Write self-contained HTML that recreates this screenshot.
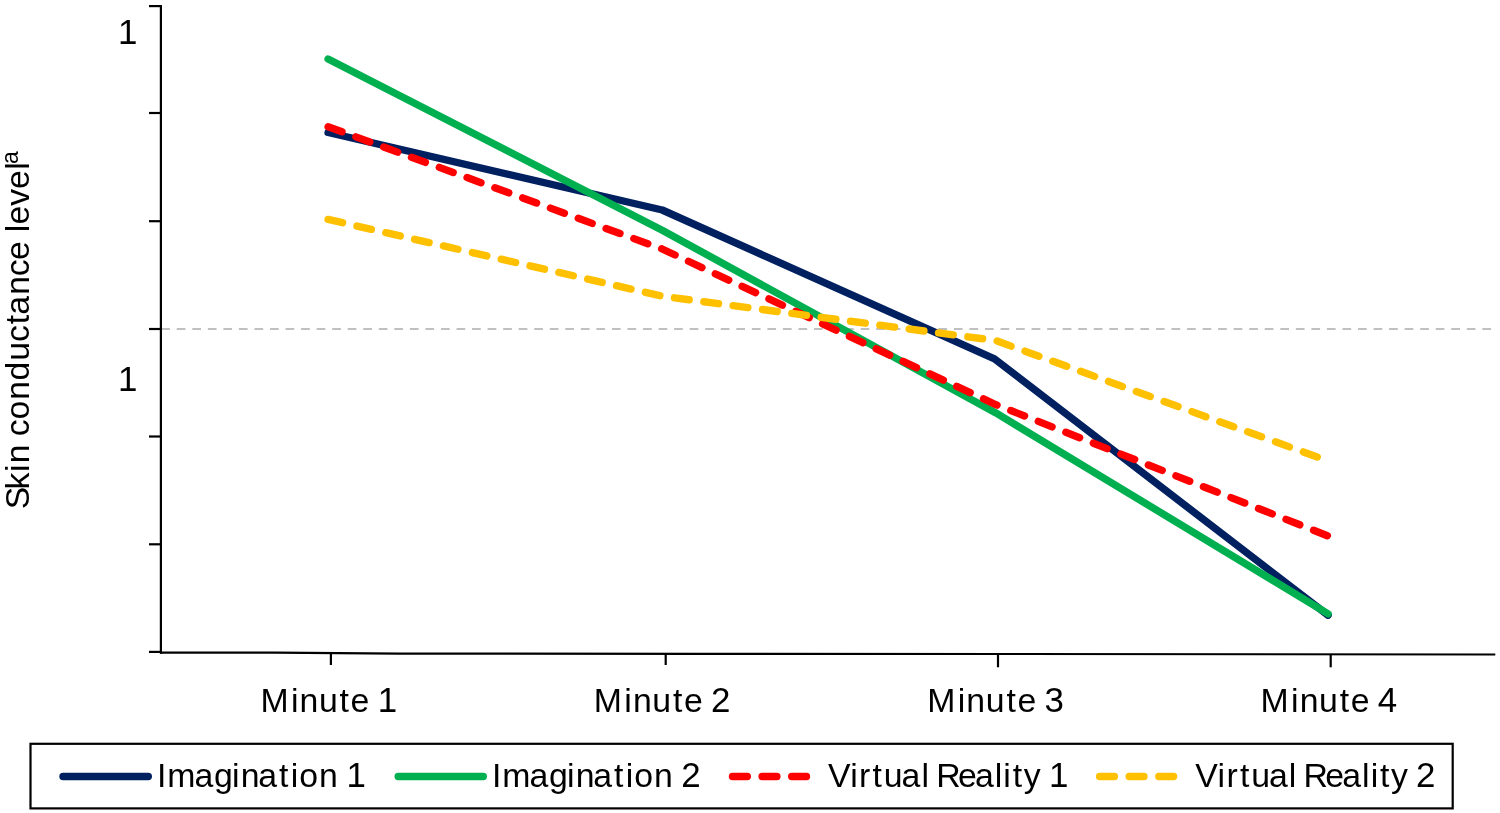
<!DOCTYPE html>
<html lang="en">
<head>
<meta charset="utf-8">
<title>Skin conductance level</title>
<style>
  html, body { margin: 0; padding: 0; background: #ffffff; }
  body { width: 1500px; height: 813px; overflow: hidden; }
  svg { display: block; }
  text { font-family: "Liberation Sans", sans-serif; fill: #000000; }
  .lbl { font-size: 33.8px; } .dg { font-size: 34.9px; }
  .ax { stroke: #000000; stroke-width: 2.2; fill: none; }
  .ser { fill: none; stroke-width: 7.4; stroke-linecap: round; stroke-linejoin: round; }
  .dash { stroke-dasharray: 14.8 14.8; }
</style>
</head>
<body>
<svg width="1500" height="813" viewBox="0 0 1500 813">
  <rect x="0" y="0" width="1500" height="813" fill="#ffffff"/>

  <!-- grid line -->
  <line x1="161.2" y1="329" x2="1495" y2="329" stroke="#c0c0c0" stroke-width="2" stroke-dasharray="8.7 6.843"/>

  <!-- series -->
  <polyline class="ser" stroke="#002060" points="328.1,132.5 662.2,210 994.5,358.9 1328.1,615.2"/>
  <polyline class="ser" stroke="#00b050" points="328.1,59 662.2,230.2 995.5,412.7 1328.1,613.8"/>
  <polyline class="ser dash" stroke="#ff0000" points="328.1,126.7 662.2,249 995.5,404.5 1327.6,535.8"/>
  <polyline class="ser dash" stroke="#ffc000" points="328.1,219.4 662.2,296.2 995.5,340.5 1328.4,461"/>

  <!-- axes -->
  <line class="ax" x1="160.9" y1="5" x2="160.9" y2="653.8"/>
  <polyline class="ax" points="160,652.7 275,652.7 400,653.6 700,653.8 1000,654 1495.3,654.5"/>
  <!-- y ticks -->
  <line class="ax" x1="149" y1="6.1" x2="161" y2="6.1"/>
  <line class="ax" x1="149" y1="113" x2="161" y2="113"/>
  <line class="ax" x1="149" y1="221.2" x2="161" y2="221.2"/>
  <line class="ax" x1="149" y1="329" x2="161" y2="329"/>
  <line class="ax" x1="149" y1="436.5" x2="161" y2="436.5"/>
  <line class="ax" x1="149" y1="544.3" x2="161" y2="544.3"/>
  <line class="ax" x1="149" y1="651.9" x2="161" y2="651.9"/>
  <!-- x ticks -->
  <line class="ax" x1="330.9" y1="653" x2="330.9" y2="665"/>
  <line class="ax" x1="665.7" y1="653.6" x2="665.7" y2="665"/>
  <line class="ax" x1="998" y1="654" x2="998" y2="667.3"/>
  <line class="ax" x1="1330.7" y1="654.3" x2="1330.7" y2="667.3"/>

  <!-- y tick labels -->
  <text class="lbl dg" x="118.1" y="43.7">1</text>
  <text class="lbl dg" x="118.1" y="391.3">1</text>

  <!-- x labels -->
  <text class="lbl" y="711.5" x="260.4 290.9 299.5 318.9 339.6 350.6 369.3 377.8">Minute <tspan class="dg">1</tspan></text>
  <text class="lbl" y="711.5" x="593.8 624.3 632.9 652.3 673 684 702.7 710.9">Minute <tspan class="dg">2</tspan></text>
  <text class="lbl" y="711.5" x="927.2 957.7 966.3 985.7 1006.4 1017.4 1036.1 1044.5">Minute <tspan class="dg">3</tspan></text>
  <text class="lbl" y="711.5" x="1260.6 1291.1 1299.7 1319.1 1339.8 1350.8 1369.5 1377.8">Minute <tspan class="dg">4</tspan></text>

  <!-- y axis title -->
  <text class="lbl" transform="translate(29.3 506.5) rotate(-90)" y="0" x="-2.8 17 34.6 43.2 62.3 70.2 87 106.7 126 145.7 164.5 182.2 191.8 211.7 230.3 246.5 265.2 274.2 282.1 300.8 317.6 336.7">Skin conductance level<tspan font-size="23px" x="342.5" dy="-11.1">a</tspan></text>

  <!-- legend -->
  <rect x="30.5" y="743.8" width="1422.2" height="64.6" fill="#ffffff" stroke="#000000" stroke-width="2.2"/>
  <line class="ser" stroke="#002060" x1="63" y1="776.5" x2="148.3" y2="776.5"/>
  <text class="lbl" y="787" x="156.9 167.3 194.6 214 232.1 240.7 258.2 279 290.7 299.2 318.9 338 346.5">Imagination <tspan class="dg">1</tspan></text>
  <line class="ser" stroke="#00b050" x1="398.2" y1="776.5" x2="483.3" y2="776.5"/>
  <text class="lbl" y="787" x="491.9 502.3 529.6 549 567.1 575.7 593.2 614 625.7 634.2 653.9 673 681.2">Imagination <tspan class="dg">2</tspan></text>
  <line class="ser dash" stroke="#ff0000" x1="732.5" y1="776.5" x2="808" y2="776.5"/>
  <text class="lbl" y="787" x="827.9 850.2 859 872.5 883.8 901.5 921.4 929.4 936.2 957.9 974.9 994.8 1003.3 1012.7 1023.7 1040.6 1049">Virtual Reality <tspan class="dg">1</tspan></text>
  <line class="ser dash" stroke="#ffc000" x1="1099.6" y1="776.5" x2="1175" y2="776.5"/>
  <text class="lbl" y="787" x="1195.2 1217.5 1226.4 1239.9 1251.2 1268.9 1288.8 1296.8 1303.5 1325.2 1342.2 1362.1 1370.7 1380.1 1391.1 1407.9 1416.1">Virtual Reality <tspan class="dg">2</tspan></text>
</svg>
</body>
</html>
